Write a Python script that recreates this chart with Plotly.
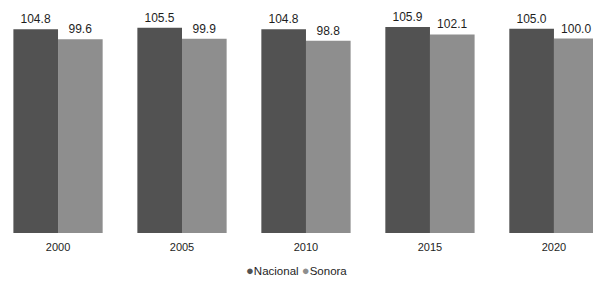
import plotly.graph_objects as go

years = ["2000", "2005", "2010", "2015", "2020"]
nacional = [104.8, 105.5, 104.8, 105.9, 105.0]
sonora = [99.6, 99.9, 98.8, 102.1, 100.0]

c_nac = "#525252"
c_son = "#8e8e8e"

fig = go.Figure()
fig.add_trace(go.Bar(x=years, y=nacional, name="Nacional", marker_color=c_nac,
                     marker_line_width=0,
                     text=[f"{v:.1f}" for v in nacional], textposition="outside",
                     textfont=dict(size=12, color="#1e1e1e"), cliponaxis=False,
                     showlegend=False))
fig.add_trace(go.Bar(x=years, y=sonora, name="Sonora", marker_color=c_son,
                     marker_line_width=0,
                     text=[f"{v:.1f}" for v in sonora], textposition="outside",
                     textfont=dict(size=12, color="#1e1e1e"), cliponaxis=False,
                     showlegend=False))

fig.add_annotation(
    xref="paper", yref="paper", x=0.5, y=-0.159, xanchor="center", yanchor="middle",
    showarrow=False,
    text=(f"<span style='color:{c_nac};font-size:13px'>●</span>Nacional "
          f"<span style='color:{c_son};font-size:13px'>●</span>Sonora"),
    font=dict(family="Arial, Liberation Sans, sans-serif", size=11.5, color="#1e1e1e"),
)

fig.update_layout(
    width=593, height=281,
    margin=dict(l=0, r=0, t=0, b=48),
    paper_bgcolor="white", plot_bgcolor="white",
    barmode="group", bargap=0.28, bargroupgap=0,
    hovermode=False,
    font=dict(family="Arial, Liberation Sans, sans-serif", size=11, color="#1e1e1e"),
)
fig.update_xaxes(type="category", range=[-0.468, 4.315], showgrid=False, showline=False,
                 ticks="", tickfont=dict(size=11), ticklabelstandoff=6)
fig.update_yaxes(range=[0, 119.8], visible=False)

fig.write_html("out.html", config={"displayModeBar": False},
               post_script="document.body.style.margin='0';document.body.style.overflow='hidden';")
